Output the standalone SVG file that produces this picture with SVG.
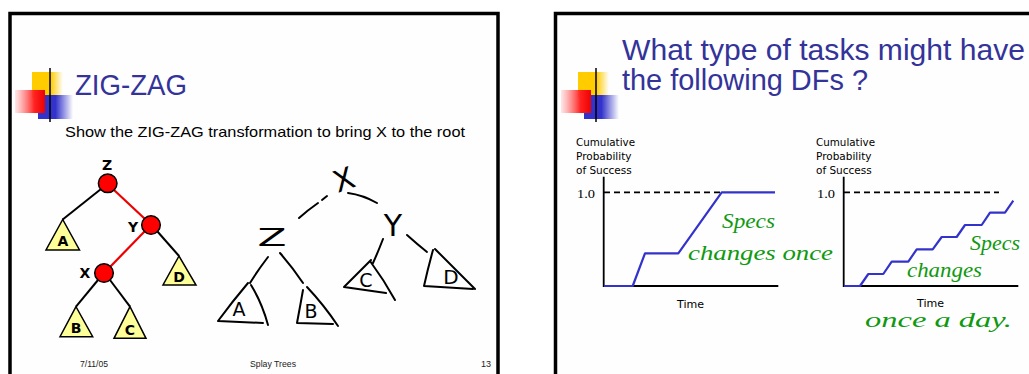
<svg xmlns="http://www.w3.org/2000/svg" width="1029" height="374" viewBox="0 0 1029 374">
<defs>
<linearGradient id="gY" x1="0" y1="0" x2="1" y2="0"><stop offset="0" stop-color="#FFCC00"/><stop offset="0.6" stop-color="#FFCC00"/><stop offset="1" stop-color="#FFCC00" stop-opacity="0"/></linearGradient>
<linearGradient id="gR" x1="0" y1="0" x2="1" y2="0"><stop offset="0" stop-color="#FF6666" stop-opacity="0.15"/><stop offset="0.65" stop-color="#FF2222"/><stop offset="1" stop-color="#EE0000"/></linearGradient>
<linearGradient id="gB" x1="0" y1="0" x2="1" y2="0"><stop offset="0" stop-color="#3333CC"/><stop offset="0.5" stop-color="#3333CC"/><stop offset="1" stop-color="#3333CC" stop-opacity="0"/></linearGradient>
<linearGradient id="gL" x1="0" y1="0" x2="1" y2="0"><stop offset="0" stop-color="#000"/><stop offset="0.4" stop-color="#444"/><stop offset="1" stop-color="#999" stop-opacity="0"/></linearGradient>
<g id="logo">
<rect x="32" y="72" width="31" height="26" fill="url(#gY)"/>
<rect x="38" y="95" width="35" height="24" fill="url(#gB)"/>
<rect x="15" y="90" width="30" height="23" fill="url(#gR)"/>
<line x1="50" y1="68" x2="50" y2="122" stroke="#000" stroke-width="1.5"/>
</g>
<style>
.frame{fill:#fefefe;stroke:#000;stroke-width:3.5}
.title{font-family:"Liberation Sans","DejaVu Sans",sans-serif;fill:#333399;font-size:29px}
.sub{font-family:"Liberation Sans","DejaVu Sans",sans-serif;fill:#000;font-size:15px}
.foot{font-family:"Liberation Sans","DejaVu Sans",sans-serif;fill:#222;font-size:9px}
.edge{stroke:#000;stroke-width:2;fill:none}
.redge{stroke:#EE0000;stroke-width:2.2;fill:none}
.node{fill:#FF0000;stroke:#000;stroke-width:1.5}
.tri{fill:#FFFF99;stroke:#000;stroke-width:1.5}
.lbl{font-family:"DejaVu Sans","Liberation Sans",sans-serif;font-weight:bold;font-size:14px;fill:#000;text-anchor:middle}
.hand{stroke:#000;stroke-width:2;fill:none;stroke-linecap:round;stroke-linejoin:round}
.hl{font-family:"DejaVu Sans","Liberation Sans",sans-serif;fill:#000;text-anchor:middle}
.ax{stroke:#000;stroke-width:1.8;fill:none}
.dash{stroke:#000;stroke-width:1.8;stroke-dasharray:6 4;fill:none}
.curve{stroke:#3333CC;stroke-width:2.2;fill:none;stroke-linejoin:round}
.gl{font-family:"DejaVu Sans","Liberation Sans",sans-serif;font-size:10.5px;fill:#000}
.one{font-family:"Liberation Serif","DejaVu Serif",serif;font-size:12px;fill:#000}
.green{font-family:"Liberation Serif","DejaVu Serif",serif;font-style:italic;fill:#109910;font-size:21px}
</style>
</defs>
<rect width="1029" height="374" fill="#fff"/>

<!-- Left slide -->
<g id="slide-left">
<rect class="frame" x="10" y="13.5" width="488" height="420"/>
<use href="#logo"/>
<line x1="32" y1="108.7" x2="427" y2="108.7" stroke="url(#gL)" stroke-width="1.8"/>
<text class="title" x="75" y="95" textLength="112" lengthAdjust="spacingAndGlyphs">ZIG-ZAG</text>
<text class="sub" x="65" y="137" textLength="400" lengthAdjust="spacingAndGlyphs">Show the ZIG-ZAG transformation to bring X to the root</text>
<text class="foot" x="80" y="367" textLength="28" lengthAdjust="spacingAndGlyphs">7/11/05</text>
<text class="foot" x="250" y="367" textLength="46" lengthAdjust="spacingAndGlyphs">Splay Trees</text>
<text class="foot" x="491" y="367" text-anchor="end">13</text>
</g>

<g id="connectors">
<line class="edge" x1="101" y1="189" x2="62.7" y2="219.5"/>
<line class="redge" x1="114" y1="190" x2="145" y2="219"/>
<line class="edge" x1="157" y1="231" x2="179" y2="256"/>
<line class="redge" x1="145" y1="231" x2="109" y2="268"/>
<line class="edge" x1="98" y1="280" x2="76" y2="306.7"/>
<line class="edge" x1="110" y1="280" x2="130" y2="306.7"/>
<!-- handwritten tree edges -->
<path class="hand" d="M327,196 L322,200 M318,203 Q308,210 299,218"/>
<path class="hand" d="M348,193 Q363,195 377,203"/>
<path class="hand" d="M383,239 Q378,252 373,263"/>
<path class="hand" d="M407,235 Q417,244 427,252"/>
<path class="hand" d="M268,257 Q258,270 250,283"/>
<path class="hand" d="M280,253 Q293,268 303,283"/>
</g>

<g id="node-Z"><circle class="node" cx="107.7" cy="183.3" r="9.3"/><text class="lbl" x="107" y="170">Z</text></g>
<g id="node-Y"><circle class="node" cx="151" cy="225" r="9.3"/><text class="lbl" x="133" y="232">Y</text></g>
<g id="node-X"><circle class="node" cx="104" cy="273" r="9.3"/><text class="lbl" x="85" y="278">X</text></g>
<g id="node-A"><polygon class="tri" points="62.7,219.5 46,250 79.5,250"/><text class="lbl" x="63" y="245.5">A</text></g>
<g id="node-D"><polygon class="tri" points="179,256 163,285 196,285"/><text class="lbl" x="179" y="281.5">D</text></g>
<g id="node-B"><polygon class="tri" points="76,306.7 60,336.7 92.7,336.7"/><text class="lbl" x="76" y="333">B</text></g>
<g id="node-C"><polygon class="tri" points="130,306.7 114,338.3 146,338.3"/><text class="lbl" x="130" y="335">C</text></g>

<!-- handwritten result tree -->
<g id="hnode-X"><text class="hl" x="344" y="190" font-size="30" transform="rotate(-20 344 180)">X</text></g>
<g id="hnode-Y"><text class="hl" x="393" y="236" font-size="30">Y</text></g>
<g id="hnode-Z"><text class="hl" x="272" y="246" font-size="24" textLength="29" lengthAdjust="spacingAndGlyphs">Z</text></g>
<g id="hnode-A"><path class="hand" d="M248,283 Q232,302 218,321 L263,323 M251,285 Q262,303 268,325"/><text class="hl" x="239" y="316" font-size="19">A</text></g>
<g id="hnode-B"><path class="hand" d="M303,290 Q300,307 297,323 L333,324 M307,287 Q324,305 338,326"/><text class="hl" x="311" y="318" font-size="19">B</text></g>
<g id="hnode-C"><path class="hand" d="M371,260 Q357,274 344,287 L386,293 M370,261 Q384,280 395,300"/><text class="hl" x="366" y="287" font-size="19">C</text></g>
<g id="hnode-D"><path class="hand" d="M433,250 Q428,268 424,286 L473,289 M435,249 Q456,270 475,289"/><text class="hl" x="451" y="284" font-size="20">D</text></g>

<!-- Right slide -->
<g id="slide-right">
<rect class="frame" x="555.5" y="13.5" width="520" height="420"/>
<use href="#logo" transform="translate(546,0)"/>
<line x1="578" y1="108.7" x2="990" y2="108.7" stroke="url(#gL)" stroke-width="1.8"/>
<text class="title" x="622" y="60" textLength="403" lengthAdjust="spacingAndGlyphs">What type of tasks might have</text>
<text class="title" x="622" y="90" textLength="246" lengthAdjust="spacingAndGlyphs">the following DFs ?</text>
</g>

<g id="graph-left">
<text class="gl" x="576" y="146" textLength="59" lengthAdjust="spacingAndGlyphs">Cumulative</text>
<text class="gl" x="576" y="160">Probability</text>
<text class="gl" x="576" y="174">of Success</text>
<text class="one" x="577" y="197.5" textLength="18" lengthAdjust="spacingAndGlyphs">1.0</text>
<line class="dash" x1="604" y1="192.3" x2="722" y2="192.3"/>
<path class="ax" d="M603.7,176.7 V286 H778.3"/>
<polyline class="curve" points="604,286 632.7,286 645,253.3 678.3,253.3 721.7,192.3 775,192.3"/>
<text class="gl" x="677" y="308" font-size="11" textLength="27" lengthAdjust="spacingAndGlyphs">Time</text>
</g>

<g id="graph-right">
<text class="gl" x="816" y="146" textLength="59" lengthAdjust="spacingAndGlyphs">Cumulative</text>
<text class="gl" x="816" y="160">Probability</text>
<text class="gl" x="816" y="174">of Success</text>
<text class="one" x="817" y="197.5" textLength="18" lengthAdjust="spacingAndGlyphs">1.0</text>
<line class="dash" x1="844" y1="192.3" x2="999" y2="192.3"/>
<path class="ax" d="M843.7,176.7 V286 H1018.3"/>
<polyline class="curve" points="844,286 860,286 868.3,274 883.3,274 891.7,261.7 908.3,261.7 916.7,249.3 932.7,249.3 941.7,237 956.7,237 965,225 981.7,225 990,212.7 1005,212.7 1013.3,200.7"/>
<text class="gl" x="917" y="307" font-size="11" textLength="27" lengthAdjust="spacingAndGlyphs">Time</text>
</g>

<g id="annotations">
<text class="green" x="722" y="228" font-size="24" textLength="53" lengthAdjust="spacingAndGlyphs">Specs</text>
<text class="green" x="688" y="260" textLength="145" lengthAdjust="spacingAndGlyphs">changes once</text>
<text class="green" x="970" y="250" textLength="50" lengthAdjust="spacingAndGlyphs">Specs</text>
<text class="green" x="907" y="277" textLength="75" lengthAdjust="spacingAndGlyphs">changes</text>
<text class="green" x="865" y="327" font-size="17" textLength="147" lengthAdjust="spacingAndGlyphs">once a day.</text>
</g>
</svg>
